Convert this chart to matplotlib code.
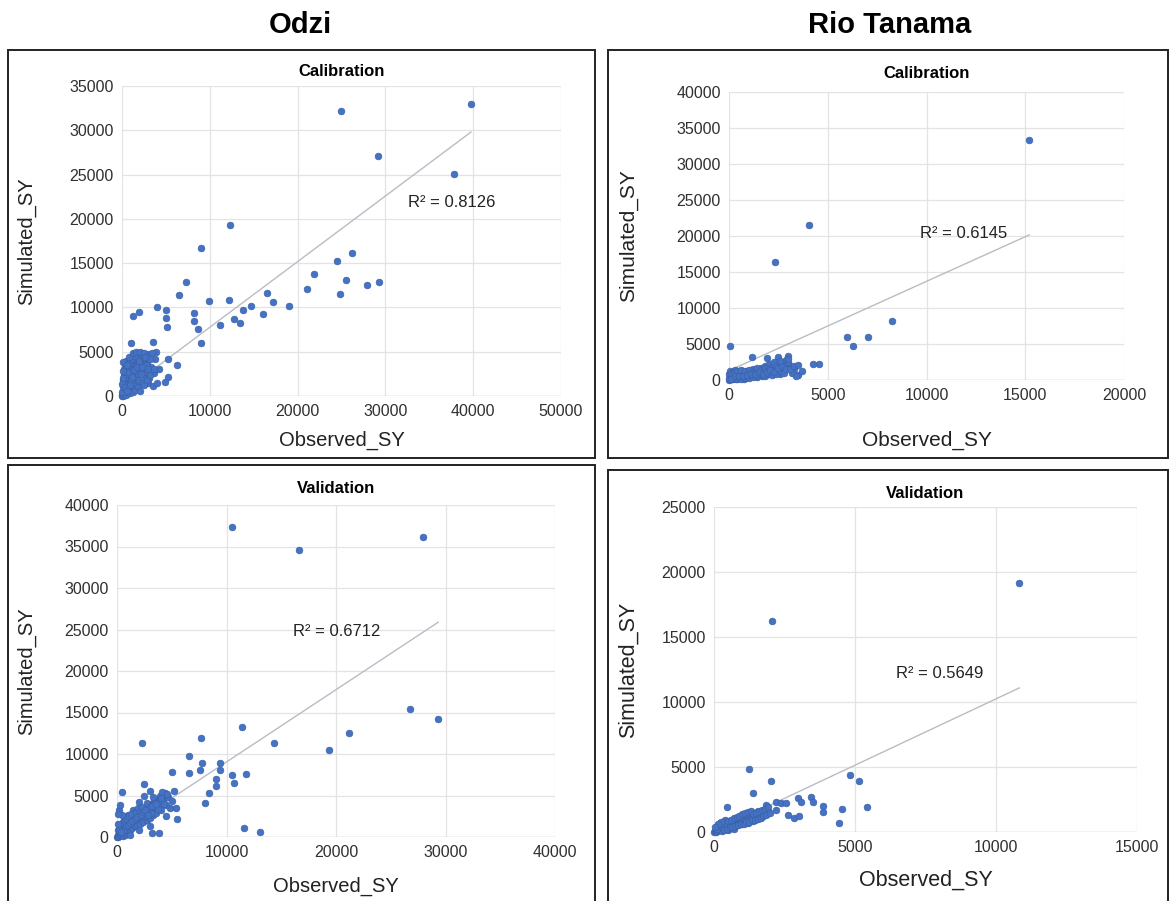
import numpy as np
import matplotlib
matplotlib.use("Agg")
import matplotlib.pyplot as plt
from matplotlib.patches import Rectangle

plt.rcParams['font.family'] = ['Liberation Sans', 'DejaVu Sans']

# ---- Odzi, calibration ----
odzi_cal_obs = [24900, 39750, 29200, 37850, 12300, 8960, 26160, 24450, 21870, 25510,
                27940, 29300, 21100, 24830, 7290, 6530, 9940, 12220, 16550, 17230,
                19060, 14690, 13820, 16100, 12790, 13440, 11160, 8240, 8200, 8620,
                9000, 5010, 5010, 5090, 4020, 1290, 1970, 990, 3570, 3870,
                5270, 6230, 5240, 4900, 2960,
                0, 50, 100, 150, 200, 250, 300, 350, 400, 450, 500, 550, 600, 650,
                700, 750, 800, 850, 900, 950, 1000, 1050, 1100, 1150, 1200, 1250,
                1300, 1350, 1400, 1450, 1500, 1600, 1650, 1700, 1800, 1850, 1900,
                2000, 2100, 2200, 2300, 2400, 2500, 2600, 2700, 2800, 2900, 3000,
                3100, 3300, 3400, 3500, 3600, 3800, 4000, 4200, 30, 80, 120, 180,
                250, 320, 400, 500, 600, 700, 100,
                200, 300, 500, 400, 700, 900, 1100, 1300, 1500, 1000, 1200, 1500,
                1800, 2000, 2200, 2500, 2700, 2800, 3000, 600, 800, 1300, 1600,
                2100, 2500, 3200, 100, 150, 50, 300, 600, 900, 1100, 1400, 1700,
                1900, 2300, 2600, 3200, 3700]
odzi_cal_sim = [32200, 32960, 27090, 25020, 19300, 16740, 16100, 15270, 13730, 13090,
                12530, 12830, 12040, 11510, 12900, 11400, 10720, 10840, 11660, 10650,
                10190, 10160, 9710, 9220, 8660, 8200, 8010, 9400, 8460, 7520,
                5950, 9710, 8840, 7750, 10080, 9060, 9510, 5950, 6060, 5000,
                4140, 3500, 2180, 1610, 1470,
                0, 100, 300, 50, 600, 200, 900, 400, 1200, 700, 150, 1500, 1000, 500,
                1800, 1300, 800, 2100, 300, 1600, 2500, 1100, 2900, 600, 2000, 3300,
                1400, 2600, 900, 3700, 2200, 3000, 1200, 4000, 2500, 3500, 1700,
                4300, 2900, 3800, 1500, 4500, 3200, 2100, 4100, 2700, 3600, 4700,
                2000, 3300, 4900, 1100, 2600, 4200, 1500, 3000, 500, 1000, 1800,
                2400, 3000, 3600, 2800, 3900, 2200, 3200, 3800,
                1500, 2000, 2500, 3200, 2700, 3800, 4200, 3000, 4500, 1800, 500, 700,
                1000, 600, 2500, 1200, 3500, 1800, 3000, 3500, 4400, 4800, 5000,
                5000, 4800, 4200, 2000, 2800, 1300, 1000, 600, 1200, 2200, 2900, 3300,
                3900, 3300, 4400, 2400, 3000]

# ---- Rio Tanama, calibration ----
rio_cal_obs = [15200, 4060, 2320, 8250, 5980, 7040, 6280, 50, 1150, 1900,
               2490, 2990, 4250, 4550, 3000, 3300, 3200, 3500, 3700,
               20, 60, 100, 150, 200, 250, 300, 350, 400, 450, 500, 550, 600,
               650, 700, 750, 800, 850, 900, 950, 1000, 1050, 1100, 1150, 1200,
               1250, 1300, 1400, 1450, 1500, 1600, 1650, 1700, 1800, 1850, 1900,
               2000, 2100, 2200, 2300, 2400, 2500, 2600, 2700, 2800, 2900, 3100,
               3400, 0, 0, 30, 80, 200, 300, 120, 500,
               100, 250, 400, 600, 800, 1000, 1200, 1400, 1600, 1800, 2000, 2200,
               2400, 2600, 2800, 3000, 200, 400, 600, 800, 1000, 1200, 1400, 1600,
               1800, 2000, 2200, 2400, 2600, 2800, 100, 300, 500, 700, 900, 1100,
               1300, 1500, 1700, 1900, 2100, 2300, 2500, 2700, 2900, 3100, 3300,
               3500, 3000, 2600]
rio_cal_sim = [33330, 21530, 16350, 8190, 6020, 6020, 4720, 4770, 3240, 3100,
               3240, 3400, 2200, 2200, 1900, 1500, 1000, 700, 1300,
               50, 200, 400, 100, 600, 300, 800, 150, 500, 900, 250, 700, 1100,
               400, 850, 200, 1000, 600, 1300, 350, 800, 1200, 500, 1000, 1500,
               700, 1100, 400, 1400, 900, 1700, 600, 1200, 2000, 900, 1500,
               2200, 1100, 1800, 2500, 1300, 2000, 900, 2300, 1600, 2800, 2000,
               600, 300, 800, 1200, 600, 1100, 1400, 900, 1300,
               900, 1000, 1200, 1400, 1300, 1400, 1100, 1700, 1400, 1600, 1500, 1300,
               1900, 1500, 2000, 2500, 200, 100, 200, 300, 300, 400, 600, 800,
               600, 800, 700, 900, 1200, 1000, 100, 500, 600, 500, 700, 800,
               900, 1100, 900, 1100, 1400, 1100, 1700, 1900, 1500, 1500, 1900,
               2100, 2900, 2600]

# ---- Odzi, validation ----
odzi_val_obs = [10520, 16600, 27950, 26730, 29330, 11440, 21220, 2320, 7680, 14340,
                19390, 6540, 7770, 7610, 9450, 9450, 10520, 11740, 10670, 9080,
                9080, 8380, 8070, 11590, 13060, 5020, 6540, 2480, 430, 3180,
                3790, 4800,
                0, 50, 100, 150, 200, 250, 300, 350, 400, 450, 500, 550, 600, 650,
                700, 750, 800, 850, 900, 950, 1000, 1100, 1150, 1200, 1300, 1350,
                1400, 1500, 1550, 1600, 1700, 1750, 1800, 1900, 2000, 2100, 2200,
                2300, 2400, 2500, 2600, 2700, 2800, 2900, 3000, 3100, 3200, 3300,
                3400, 3500, 3600, 3700, 3800, 3900, 4000, 4200, 4400, 4500, 4700,
                5000, 5200, 5400, 1000, 1500, 600, 2000, 200, 2500, 3000, 400, 800,
                100, 1200, 2000, 3000, 4500, 5500, 300, 500,
                300, 500, 700, 900, 1100, 1300, 1500, 1700, 1900, 2100, 2300, 2500,
                2700, 2900, 3100, 3300, 3500, 3700, 3900, 4100, 4300, 600, 800,
                1000, 1200, 1400, 1600, 1800, 2200, 2400, 2600, 2800, 3200, 3600,
                4000, 4600, 200, 400, 100, 50]
odzi_val_sim = [37320, 34580, 36110, 15420, 14220, 13290, 12570, 11290, 11890, 11290,
                10480, 9800, 8880, 8070, 8880, 8070, 7470, 7590, 6470, 6950,
                6180, 5260, 4130, 1040, 560, 7870, 7670, 6350, 5390, 440,
                440, 3460,
                0, 200, 50, 400, 150, 600, 250, 800, 350, 1000, 500, 150, 1200, 700,
                300, 1400, 900, 500, 1600, 1100, 700, 1800, 1300, 900, 2000, 1500,
                1100, 2300, 1700, 1300, 2500, 1900, 1400, 2800, 2100, 1600, 3100,
                2400, 1800, 3400, 2700, 2000, 3700, 3000, 2300, 4000, 3300, 2600,
                4300, 3600, 2900, 4600, 3900, 5000, 3300, 4500, 5300, 3800, 4800,
                4300, 5500, 3500, 2600, 3200, 2000, 4200, 3300, 5000, 5500, 1500, 2400,
                900, 300, 900, 1300, 2500, 2200, 3800, 2600,
                1200, 1700, 1900, 2200, 2500, 2800, 2000, 3000, 3500, 3000, 3600, 2500,
                4100, 3500, 2900, 4800, 4100, 3400, 4400, 5400, 4000, 900, 1300,
                1500, 1700, 1900, 2200, 2400, 2700, 3000, 3300, 2600, 3700, 4000,
                4700, 5200, 800, 600, 1600, 2800]

# ---- Rio Tanama, validation ----
rio_val_obs = [10830, 2050, 1240, 2030, 4810, 5140, 1380, 450, 5410, 4550,
               4440, 3850, 3850, 3440, 3500, 2970, 3090, 2620, 2850, 3030,
               2210, 2380, 2560, 1860,
               0, 30, 60, 90, 120, 150, 180, 210, 240, 270, 300, 330, 360, 390,
               420, 450, 480, 510, 540, 570, 600, 640, 680, 720, 760, 800, 840,
               880, 920, 960, 1000, 1050, 1100, 1150, 1200, 1250, 1300, 1350,
               1400, 1450, 1500, 1550, 1600, 1700, 1800, 1900, 200, 400, 600,
               800, 1000, 1200, 1400, 100, 300, 500, 700,
               100, 200, 300, 400, 500, 600, 700, 800, 900, 1000, 1100, 1200,
               1300, 1400, 1500, 1600, 1700, 1800, 350, 450, 550, 650, 750, 850,
               950, 1050, 1150, 1250, 1350, 1450, 1550, 1650, 1750, 1850, 2000,
               2200, 1900, 250, 150, 50]
rio_val_sim = [19180, 16230, 4850, 3920, 4380, 3950, 2980, 1950, 1900, 1770,
               720, 2000, 1560, 2720, 2330, 2590, 2330, 1310, 1050, 1230,
               2330, 2210, 2250, 2080,
               0, 100, 20, 200, 60, 300, 120, 380, 180, 450, 240, 520, 300, 600,
               350, 680, 400, 750, 460, 820, 520, 880, 580, 950, 640, 1000, 700,
               1080, 760, 1150, 820, 1200, 880, 1300, 950, 1380, 1020, 1450,
               1100, 1500, 1180, 1600, 1250, 1400, 1500, 1600, 700, 900, 300,
               550, 600, 700, 850, 500, 100, 150, 250,
               250, 450, 600, 700, 850, 950, 1050, 1150, 1250, 1350, 1450, 1550,
               1650, 1400, 1500, 1550, 1700, 1800, 150, 250, 350, 400, 450, 550,
               600, 650, 750, 800, 900, 950, 1000, 1100, 1200, 1300, 1500,
               1700, 1900, 800, 600, 400]

# linear trendline coefficients (slope, intercept) and R² labels
trend = {
    'odzi_cal': (0.741, 350), 'rio_cal': (1.24, 1300),
    'odzi_val': (0.871, 330), 'rio_val': (1.02, 40),
}
r2_labels = {'odzi_cal': 'R² = 0.8126', 'rio_cal': 'R² = 0.6145',
             'odzi_val': 'R² = 0.6712', 'rio_val': 'R² = 0.5649'}

W, H = 1171, 901
fig = plt.figure(figsize=(W / 100, H / 100), dpi=100)


def fx(px):
    return px / W


def fy(py):
    return 1 - py / H


# black frames around each panel
for (x0, y0, x1, y1) in [(8, 50, 595, 458), (608, 50, 1168, 458),
                         (8, 465, 595, 903), (608, 470, 1168, 903)]:
    fig.patches.append(Rectangle((fx(x0), fy(y1)), fx(x1 - x0), (y1 - y0) / H,
                                 transform=fig.transFigure, fill=False,
                                 edgecolor='#222222', linewidth=1.4))

fig.text(fx(300), fy(25), 'Odzi', ha='center', va='center',
         fontsize=21, fontweight='bold')
fig.text(fx(890), fy(25), 'Rio Tanama', ha='center', va='center',
         fontsize=21, fontweight='bold')

panels = [
    # key, obs, sim, axes pixel box (left, right, bottom, top), xlim, xstep, ylim, ystep,
    # title, title y, ylabel x, xlabel y, label size, R² position
    ('odzi_cal', odzi_cal_obs, odzi_cal_sim, (122, 561, 396, 86), 50000, 10000, 35000, 5000,
     'Calibration', 72, 27, 440, 14.5, (37600, 21800)),
    ('rio_cal', rio_cal_obs, rio_cal_sim, (729, 1124, 380, 92), 20000, 5000, 40000, 5000,
     'Calibration', 73, 628, 440, 15, (11900, 20400)),
    ('odzi_val', odzi_val_obs, odzi_val_sim, (117, 555, 837, 505), 40000, 10000, 40000, 5000,
     'Validation', 488, 27, 886, 14.5, (20100, 24700)),
    ('rio_val', rio_val_obs, rio_val_sim, (714, 1137, 832, 507), 15000, 5000, 25000, 5000,
     'Validation', 493, 628, 880, 15.5, (8000, 12200)),
]

for (key, obs, sim, box, xmax, xstep, ymax, ystep,
     title, ty, ylx, xly, lsize, r2pos) in panels:
    left, right, bottom, top = box
    ax = fig.add_axes([fx(left), fy(bottom), fx(right - left), (bottom - top) / H])
    ax.set_xlim(0, xmax)
    ax.set_ylim(0, ymax)
    ax.set_xticks(np.arange(0, xmax + 1, xstep))
    ax.set_yticks(np.arange(0, ymax + 1, ystep))
    ax.grid(True, color='#e3e3e3', linewidth=0.9)
    ax.set_axisbelow(True)
    for s in ax.spines.values():
        s.set_visible(False)
    ax.axhline(0, color='#d0d0d0', linewidth=1.0, zorder=1)
    ax.tick_params(length=0, labelsize=11.5, colors='#303030', pad=6)

    ax.scatter(obs, sim, s=24, color='#4472C4', edgecolors='#3a5da0',
               linewidths=0.4, zorder=3, clip_on=False)

    m, c = trend[key]
    xs = np.array([0, max(obs)])
    ax.plot(xs, m * xs + c, color='#b8bcc4', linewidth=1.0, zorder=2)
    ax.text(r2pos[0], r2pos[1], r2_labels[key], ha='center', va='center',
            fontsize=12, color='#222222', zorder=4)

    cx = (left + right) / 2
    fig.text(fx(cx), fy(ty), title, ha='center', va='center',
             fontsize=12, fontweight='bold')
    fig.text(fx(ylx), fy((top + bottom) / 2), 'Simulated_SY', rotation=90,
             ha='center', va='center', fontsize=lsize, color='#222222')
    fig.text(fx(cx), fy(xly), 'Observed_SY', ha='center', va='center',
             fontsize=lsize, color='#222222')

fig.savefig('out.png', dpi=100, facecolor='white')
